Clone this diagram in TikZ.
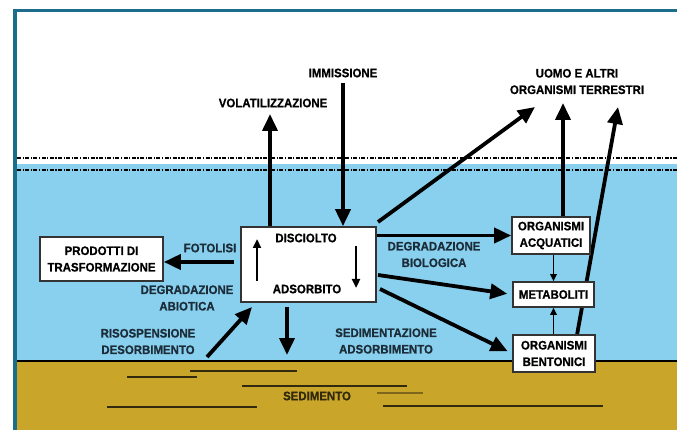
\documentclass[tikz,border=0pt]{standalone}
\usepackage{fontspec}
\setmainfont{Liberation Sans}
\newfontfamily\lblfont{Liberation Sans Bold}[FakeBold=0.7, FakeStretch=0.93]
\usetikzlibrary{arrows.meta}
\definecolor{framec}{RGB}{28,109,140}
\definecolor{water}{RGB}{137,208,238}
\definecolor{sed}{RGB}{201,165,42}
\definecolor{lblc}{RGB}{28,45,58}
\definecolor{sedline}{RGB}{50,42,15}
\pgfdeclarelayer{bg}
\pgfdeclarelayer{arr}
\pgfsetlayers{bg,arr,main}
\begin{document}
\begin{tikzpicture}[x=1pt,y=-1pt,
 lab/.style={font=\lblfont\fontsize{12.3}{16.5}\selectfont, align=center, inner sep=1pt},
 wlab/.style={lab, text=lblc},
 klab/.style={lab, text=black},
 bx/.style={draw=black!80, line width=1.6pt, fill=white, inner sep=0pt},
 bigarrow/.style={line width=3.8pt, -{Triangle[length=17pt,width=15pt]}},
 midarrow/.style={line width=2.4pt, -{Triangle[length=9pt,width=8pt]}},
 smallarrow/.style={line width=1.8pt, -{Triangle[length=7pt,width=6.5pt]}},
 dd/.style={line width=2pt, dash pattern=on 4pt off 1.5pt on 1.2pt off 1.5pt},
 sl/.style={line width=1.4pt, draw=sedline}
]
\useasboundingbox (0,0) rectangle (677,430);

% ---------- boxes and labels ----------
\node[bx, minimum width=135pt, minimum height=75pt] (cbox) at (308.5,264.5) {};
\node[klab] (disc) at (306,238) {DISCIOLTO};
\node[klab] (ads) at (307,289) {ADSORBITO};

\node[bx, klab, minimum width=123pt, minimum height=44pt] (prod) at (101.5,259) {PRODOTTI DI\\TRASFORMAZIONE};
\node[bx, klab, minimum width=78pt, minimum height=37pt] (acq) at (551,235.5) {ORGANISMI\\ACQUATICI};
\node[bx, klab, minimum width=81pt, minimum height=25pt] (met) at (553.5,294.5) {METABOLITI};
\node[bx, klab, minimum width=82pt, minimum height=37pt] (bent) at (554,353.5) {ORGANISMI\\BENTONICI};

\node[klab] (imm) at (343,73) {IMMISSIONE};
\node[klab] (vol) at (273,103) {VOLATILIZZAZIONE};
\node[klab] (uomo) at (577,81.5) {UOMO E ALTRI\\ORGANISMI TERRESTRI};
\node[wlab] (foto) at (210,248) {FOTOLISI};
\node[wlab] (dabio) at (187,298) {DEGRADAZIONE\\ABIOTICA};
\node[wlab] (riso) at (148,341.5) {RISOSPENSIONE\\DESORBIMENTO};
\node[wlab] (dbio) at (434,254.5) {DEGRADAZIONE\\BIOLOGICA};
\node[wlab] (sedad) at (386,341) {SEDIMENTAZIONE\\ADSORBIMENTO};
\node[lab, text=sedline] (sedt) at (317,396) {SEDIMENTO};

% ---------- named coordinates ----------
\coordinate (vtip) at (270,114);
\coordinate (itop) at (343,83);
\coordinate (dstart) at (378,222);
\coordinate (dtip) at (535,107);
\coordinate (atip) at (563,103);
\coordinate (bbase) at (577,335);
\coordinate (btip) at (618,107);
\coordinate (ms) at (378,275);
\coordinate (bs) at (380,289);
\coordinate (fl) at (234,262);
\coordinate (rs) at (207,357);
\coordinate (rt) at (252,307);
\coordinate (dt) at (287,355);
\coordinate (upA) at (257,281);
\coordinate (upB) at (257,239);
\coordinate (dnA) at (356,246);
\coordinate (dnB) at (356,288);

% ---------- background ----------
\begin{pgfonlayer}{bg}
\fill[white] (0,0) rectangle (677,430);
\fill[water] (17,164) rectangle (677,361);
\fill[sed] (17,361) rectangle (677,430);
\draw[line width=2pt] (17,361) -- (677,361);
\draw[dd] (17,158) -- (677,158);
\draw[dd] (17,170) -- (677,170);
\fill[framec] (13,9) rectangle (17,430);
\fill[framec] (13,9) rectangle (677,12.5);
\draw[sl] (190,371) -- (297,371);
\draw[sl] (127,377) -- (197,377);
\draw[sl] (242,386) -- (407,386);
\draw[sl, draw=sedline!50!sed] (377,393) -- (423,393);
\draw[sl] (107,407) -- (257,407);
\draw[sl] (383,406) -- (603,406);
\end{pgfonlayer}

% ---------- arrows ----------
\begin{pgfonlayer}{arr}
\draw[bigarrow] (cbox.north -| vtip) -- (vtip);
\draw[bigarrow] (itop) -- (cbox.north -| itop);
\draw[bigarrow] (dstart) -- (dtip);
\draw[bigarrow] (acq.north -| atip) -- (atip);
\draw[bigarrow] (bbase) -- (btip);
\draw[bigarrow] (cbox.east |- acq.west) -- (acq.west);
\draw[bigarrow, shorten >=5pt] (ms) -- (met.west);
\draw[bigarrow, shorten >=5pt] (bs) -- (bent.west);
\draw[bigarrow] (fl) -- (prod.east |- fl);
\draw[bigarrow] (rs) -- (rt);
\draw[bigarrow, shorten <=4pt] (cbox.south -| dt) -- (dt);
\draw[smallarrow] (acq.south -| met.north) -- (met.north);
\draw[smallarrow] (bent.north -| met.south) -- (met.south);
\end{pgfonlayer}
\draw[midarrow] (upA) -- (upB);
\draw[midarrow] (dnA) -- (dnB);
\end{tikzpicture}
\end{document}
